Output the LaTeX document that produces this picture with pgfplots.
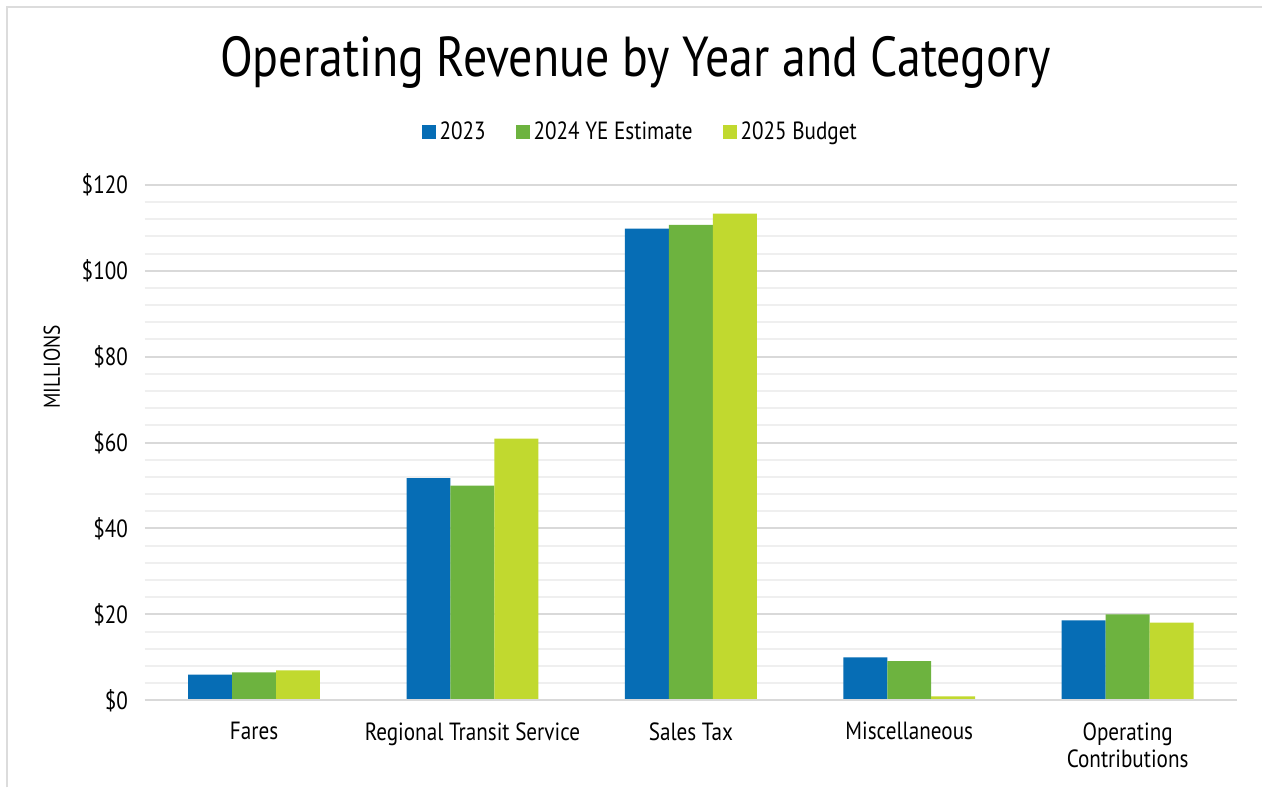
\documentclass[border=0pt]{standalone}
\usepackage{fontspec}
\setmainfont{PT Sans}[FakeStretch=0.85]
\usepackage{pgfplots}
\pgfplotsset{compat=1.18}
\definecolor{cA}{HTML}{066DB5}
\definecolor{cB}{HTML}{6DB33F}
\definecolor{cC}{HTML}{C1D92F}
\definecolor{gmaj}{HTML}{D9D9D9}
\definecolor{gmin}{HTML}{EFEFEF}
\definecolor{frame}{HTML}{DCDCDC}
\begin{document}
\begin{tikzpicture}
\fill[white] (0bp,0bp) rectangle (631.5bp,394bp);
\draw[frame,line width=1.2bp] (3.6bp,0bp) -- (3.6bp,390.6bp) -- (631.5bp,390.6bp);
\node[font=\fontsize{28.3}{34}\selectfont] at (318bp,363bp) {Operating Revenue by Year and Category};
\begin{axis}[
  at={(72.5bp,43.5bp)}, anchor=south west,
  scale only axis, width=546.5bp, height=258bp,
  ymin=0, ymax=120, xmin=-0.5, xmax=4.5,
  ybar=0pt, bar width=22bp,
  axis line style={draw=none},
  axis x line*=bottom, axis y line*=left,
  ytick={0,20,...,120},
  yticklabels={\$0,\$20,\$40,\$60,\$80,\$100,\$120},
  minor y tick num=4,
  ymajorgrids, yminorgrids,
  major grid style={gmaj,line width=1bp},
  minor grid style={gmin,line width=1bp},
  major tick length=0pt, minor tick length=0pt,
  xtick=data,
  xticklabels={Fares,Regional Transit Service,Sales Tax,Miscellaneous,{Operating\\Contributions}},
  xticklabel style={align=center, yshift=-7.5bp, font=\fontsize{12.5}{14}\selectfont},
  yticklabel style={xshift=-5bp, font=\fontsize{12.5}{14}\selectfont},
  ylabel={MILLIONS},
  ylabel style={font=\fontsize{11.5}{12}\selectfont, at={(axis description cs:-0.0851,0.647)}, anchor=center, rotate=0},
  legend style={at={(axis description cs:0.4545,1.1027)}, anchor=center, draw=none,
    legend columns=-1, font=\fontsize{12.5}{14}\selectfont,
    /tikz/every even column/.append style={column sep=13bp}},
  legend image code/.code={\fill[#1] (0,-3.5bp) rectangle (7bp,3.5bp);},
]
\addplot[fill=cA, draw=none] coordinates {(0,6.0) (1,51.7) (2,109.8) (3,10.0) (4,18.6)};
\addplot[fill=cB, draw=none] coordinates {(0,6.5) (1,50.0) (2,110.7) (3,9.1) (4,20.0)};
\addplot[fill=cC, draw=none] coordinates {(0,7.0) (1,60.9) (2,113.3) (3,0.9) (4,18.1)};
\draw[gmaj, line width=1.2bp] (axis cs:-0.5,0) -- (axis cs:4.5,0);
\legend{2023,2024 YE Estimate,2025 Budget}
\end{axis}
\end{tikzpicture}
\end{document}
